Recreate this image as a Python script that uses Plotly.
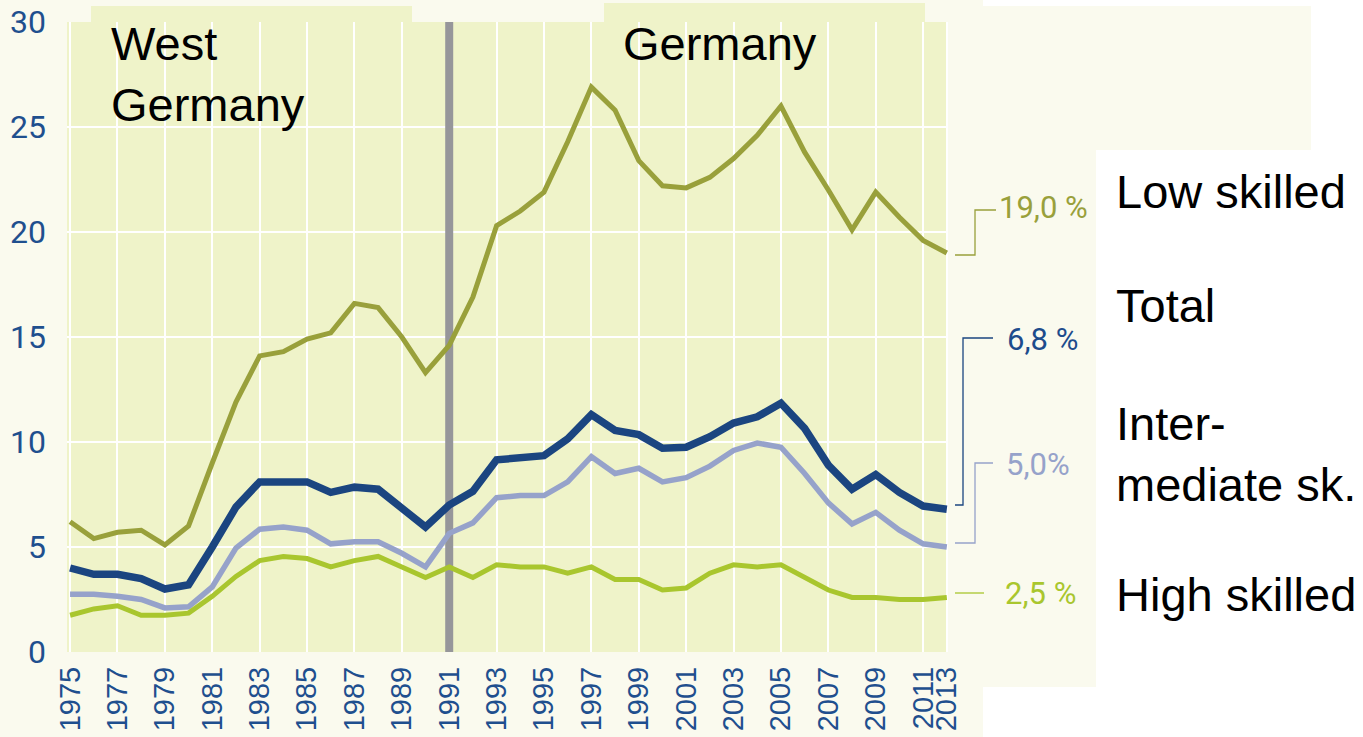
import plotly.graph_objects as go

years = list(range(1975, 2013))

low_skilled = [6.2, 5.4, 5.7, 5.8, 5.1, 6.0, 9.0, 11.9, 14.1, 14.3, 14.9, 15.2, 16.6, 16.4, 15.0, 13.3, 14.6,
               16.9, 20.3, 21.0, 21.9, 24.3, 26.9, 25.8, 23.4, 22.2, 22.1, 22.6, 23.5, 24.6, 26.0, 23.8,
               22.0, 20.1, 21.9, 20.7, 19.6, 19.0]
total = [4.0, 3.7, 3.7, 3.5, 3.0, 3.2, 5.0, 6.9, 8.1, 8.1, 8.1, 7.6, 7.85, 7.75, 6.85, 5.95, 7.0,
         7.65, 9.15, 9.25, 9.35, 10.15, 11.3, 10.55, 10.35, 9.7, 9.75, 10.25, 10.9, 11.2, 11.85, 10.65,
         8.9, 7.75, 8.45, 7.6, 6.95, 6.8]
intermediate = [2.75, 2.75, 2.65, 2.5, 2.1, 2.15, 3.1, 4.95, 5.85, 5.95, 5.8, 5.15, 5.25, 5.25, 4.7, 4.05, 5.65,
                6.15, 7.35, 7.45, 7.45, 8.1, 9.3, 8.5, 8.75, 8.1, 8.3, 8.85, 9.6, 9.95, 9.75, 8.5,
                7.1, 6.1, 6.65, 5.8, 5.15, 5.0]
high_skilled = [1.75, 2.05, 2.2, 1.75, 1.75, 1.85, 2.65, 3.6, 4.35, 4.55, 4.45, 4.05, 4.35, 4.55, 4.05, 3.55, 4.05,
                3.55, 4.15, 4.05, 4.05, 3.75, 4.05, 3.45, 3.45, 2.95, 3.05, 3.75, 4.15, 4.05, 4.15, 3.55,
                2.95, 2.6, 2.6, 2.5, 2.5, 2.6]

tick_years = list(range(1975, 2012, 2)) + [2012]
tick_text = [str(y) for y in range(1975, 2012, 2)] + ["2013"]

series_names = ["Low skilled", "Intermediate sk.", "High skilled", "Total"]
end_labels = ["19,0 %", "5,0%", "2,5 %", "6,8 %"]

CREAM = "#fafaee"
PLOT_BG = "#eff3c9"
AXIS_BLUE = "#1f4f8e"
C_LOW = "#99a03b"
C_TOTAL = "#1b4580"
C_MID = "#96a2ca"
C_HIGH = "#a9c62e"

W, H = 1363, 737
L, R, T, B = 67, 415, 22, 85
PW, PH = W - L - R, H - T - B


def px(x):
    return (x - L) / PW


def py(y):
    return (H - B - y) / PH


fig = go.Figure()
for vals, name, color, width in [
    (low_skilled, series_names[0], C_LOW, 5),
    (intermediate, series_names[1], C_MID, 5.5),
    (high_skilled, series_names[2], C_HIGH, 5),
    (total, series_names[3], C_TOTAL, 7.5),
]:
    fig.add_trace(go.Scatter(x=years, y=vals, mode="lines", name=name,
                             line=dict(color=color, width=width)))

shapes = []
# white parts of the page around the cream chart area
for x0, y0, x1, y1 in [(983, 0, W, 6), (1311, 0, W, 150), (1096, 150, W, H), (983, 687, 1096, H)]:
    shapes.append(dict(type="rect", xref="paper", yref="paper", x0=px(x0), x1=px(x1), y0=py(y0), y1=py(y1),
                       fillcolor="white", line_width=0, layer="below"))
# boxes behind the region titles
for x0, y0, x1, y1 in [(91, 6, 412, 140), (604, 3, 925, 77)]:
    shapes.append(dict(type="rect", xref="paper", yref="paper", x0=px(x0), x1=px(x1), y0=py(y0), y1=py(y1),
                       fillcolor=PLOT_BG, line_width=0, layer="between"))
# reunification divider
shapes.append(dict(type="line", xref="x", yref="y", x0=1991, x1=1991, y0=0, y1=30,
                   line=dict(color="#96969a", width=8), layer="between"))
# connectors to the end values
connectors = [
    ([(955, 255), (975, 255), (975, 210), (996, 210)], C_LOW),
    ([(955, 505), (963, 505), (963, 338), (993, 338)], C_TOTAL),
    ([(955, 543), (975, 543), (975, 463), (993, 463)], C_MID),
    ([(955, 593), (984, 593)], C_HIGH),
]
for pts, color in connectors:
    path = "M " + " L ".join(f"{px(a):.5f},{py(b):.5f}" for a, b in pts)
    shapes.append(dict(type="path", xref="paper", yref="paper", path=path,
                       line=dict(color=color, width=1.3)))

annotations = []
narrow = "Liberation Sans Narrow, Roboto, sans-serif"
for text, color, x, y in [
    (end_labels[0], C_LOW, 997, 208),
    (end_labels[3], "#1d4c8c", 1005, 339),
    (end_labels[1], C_MID, 1004, 465),
    (end_labels[2], C_HIGH, 1003, 593),
]:
    annotations.append(dict(xref="paper", yref="paper", x=px(x), y=py(y), xanchor="left", yanchor="middle",
                            text=text, showarrow=False,
                            font=dict(family=narrow, size=31, color=color)))

sans = "Liberation Sans, Arial, sans-serif"
for text, x, y in [
    ("Low skilled", 1114, 191),
    ("Total", 1114, 306),
    ("Inter-<br>mediate sk.", 1114, 454),
    ("High skilled", 1114, 594),
    ("West<br>Germany", 109, 74),
    ("Germany", 621, 44),
]:
    annotations.append(dict(xref="paper", yref="paper", x=px(x), y=py(y), xanchor="left", yanchor="middle",
                            text=text, showarrow=False, align="left",
                            font=dict(family=sans, size=47, color="black")))

fig.update_layout(
    width=W, height=H, autosize=False,
    margin=dict(l=L, r=R, t=T, b=B),
    paper_bgcolor=CREAM, plot_bgcolor=PLOT_BG,
    showlegend=False,
    shapes=shapes, annotations=annotations,
    xaxis=dict(range=[1974.87, 2012.05], tickmode="array", tickvals=tick_years, ticktext=tick_text,
               tickangle=-90, showgrid=True, gridcolor="white", gridwidth=2, zeroline=False,
               showline=False, ticks="", ticklabelstandoff=8, automargin=False,
               tickfont=dict(family=sans, size=29, color=AXIS_BLUE)),
    yaxis=dict(range=[0, 30], tickvals=[0, 5, 10, 15, 20, 25, 30], showgrid=True, gridcolor="white",
               gridwidth=2, zeroline=False, showline=False, ticks="", ticklabelstandoff=20, automargin=False,
               tickfont=dict(family=narrow, size=32, color=AXIS_BLUE)),
)

# page body has a default 8px margin; drop it so the figure fills the window
fig.write_html("out.html", config={"displayModeBar": False},
               post_script="document.body.style.margin='0';")
